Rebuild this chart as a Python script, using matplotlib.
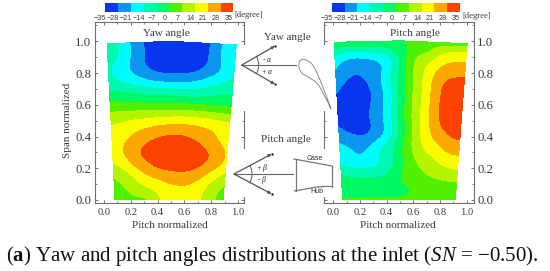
import numpy as np
import matplotlib
matplotlib.use("Agg")
import matplotlib.pyplot as plt
import matplotlib.tri as mtri
from matplotlib.colors import ListedColormap, BoundaryNorm
from matplotlib.ticker import MultipleLocator
from matplotlib.path import Path
from matplotlib.patches import PathPatch, Rectangle, Arc

plt.rcParams['font.family'] = ['Liberation Serif', 'DejaVu Serif']
plt.rcParams['mathtext.fontset'] = 'custom'
plt.rcParams['mathtext.rm'] = 'Liberation Serif'
plt.rcParams['mathtext.it'] = 'Liberation Serif:italic'
plt.rcParams['mathtext.bf'] = 'Liberation Serif:bold'

levels = [-35, -28, -21, -14, -7, 0, 7, 14, 21, 28, 35]
band_colors = ['#0a35ee', '#0a96ee', '#00fbfb', '#00f8b0', '#00f864',
               '#50f000', '#b4f400', '#fbfb00', '#fba800', '#fb4200']
level_labels = ['\u221235', '\u221228', '\u221221', '\u221214', '\u22127', '0', '7', '14', '21', '28', '35']

pitch_pos = [0, .1, .2, .3, .4, .5, .6, .7, .8, .9, 1]

yaw_span = [0, .1, .2, .3, .4, .5, .6, .7, .8, .9, 1]
yaw_values = [
    [3.5, 4.5, 5.5, 7, 13, 14.5, 15.5, 15, 13.5, 8, 5],
    [5.5, 8, 12, 15.5, 18, 20.5, 21.5, 20.5, 17, 11.5, 7.5],
    [11, 14.5, 20, 24.5, 27.5, 29, 29.5, 28.5, 25.5, 21, 16],
    [17, 21, 26, 29.5, 31.5, 32.5, 33, 31.5, 29, 25, 20],
    [17, 19, 22.5, 25.5, 27.5, 28.5, 28.5, 27, 24.5, 21, 18],
    [12.5, 13.5, 15, 16, 17, 17.5, 18, 17.5, 16.5, 15, 13.5],
    [3, 2.8, 2.5, 2, 1.8, 1.5, 1.5, 1.2, 1, .5, 0],
    [-7, -8.5, -10, -12, -13.5, -14, -14, -13.5, -11.5, -9.5, -8],
    [-13, -17, -21, -25, -27.5, -28.5, -28, -26.5, -23, -19, -15],
    [-12, -16, -23, -28.5, -31, -32, -32, -31, -27.5, -20.5, -16],
    [-10, -15, -23, -29, -32, -33, -33, -31, -28, -21, -16],
]

pitch_span = [0, .025, .1, .2, .3, .4, .5, .6, .7, .8, .9, .97, 1]
pitch_values = [
    [4, 4, 4, 4, 4, 4, 4, 4, 4, 4, 4],
    [-3, -3, -3, -3, -2.5, -1, 1, 2, 3, 3.5, 3.5],
    [-4.5, -5.5, -5.5, -5.5, -4, -1.5, 1.5, 3, 4.5, 5.5, 5.5],
    [-12, -13.5, -14, -13, -9.5, -2.5, 3.5, 7.5, 10.5, 13, 14.5],
    [-18, -20.5, -21, -16, -10.5, -2.5, 6, 12.5, 16.5, 20.5, 22],
    [-24, -26.5, -27.5, -24, -17, -5.5, 6.5, 16, 22.5, 27, 29],
    [-29, -32, -30.5, -26, -18, -5.5, 7, 17, 26, 31, 32],
    [-29, -32.5, -31, -26, -18, -5.5, 7, 17, 26.5, 32, 33],
    [-27, -31, -30.5, -26, -17.5, -5.5, 6.8, 16.5, 26, 30.5, 31.5],
    [-22, -27, -27.5, -24.5, -17, -5.5, 6.5, 15.5, 23, 26.5, 27],
    [-16, -20, -20.5, -19, -15, -5.5, 5, 10, 15.5, 18.5, 19],
    [-5, -7.5, -7.5, -7, -5, -1.5, 1.5, 4, 7.5, 9, 9],
    [-1, -1.5, -2, -2, -2, -1, 1, 2.5, 3, 3, 2],
]

W, H = 550, 271
GREY = '#707070'
TXT = '#3a3a3a'
fig = plt.figure(figsize=(W / 100, H / 100), dpi=100)
cmap = ListedColormap(band_colors)
norm = BoundaryNorm(levels, cmap.N)


def px_axes(x0, y0, x1, y1, **kw):
    return fig.add_axes([x0 / W, 1 - y1 / H, (x1 - x0) / W, (y1 - y0) / H], **kw)


def panel(px, field, spans, left, right, top, ticks_px):
    # px: left, right, top, bottom of the frame; left/right = edges (top, bottom) in data units
    ax = px_axes(px[0], px[2], px[1], px[3])
    tick0, tick1 = ticks_px
    scale = tick1 - tick0
    ax.set_xlim((px[0] - tick0) / scale, (px[1] - tick0) / scale)
    ax.set_ylim((200 - px[3]) / 158.7, (200 - px[2]) / 158.7)
    xi = np.array(pitch_pos)
    eta = np.array(spans)
    top_curve = np.interp(xi, [0, .5, 1], top)
    Y = np.outer(eta, top_curve)
    e = Y / top_curve.max()
    XL = left[1] + (left[0] - left[1]) * e
    XR = right[1] + (right[0] - right[1]) * e
    X = XL + (XR - XL) * xi
    nr, nc = X.shape
    idx = np.arange(nr * nc).reshape(nr, nc)
    a, b, c, d = idx[:-1, :-1].ravel(), idx[:-1, 1:].ravel(), idx[1:, 1:].ravel(), idx[1:, :-1].ravel()
    triangles = np.vstack([np.column_stack([a, b, c]), np.column_stack([a, c, d])])
    tri = mtri.Triangulation(X.ravel(), Y.ravel(), triangles)
    z = np.array(field, dtype=float).ravel()
    refiner = mtri.UniformTriRefiner(tri)
    tri_f, z_f = refiner.refine_field(z, triinterpolator=mtri.CubicTriInterpolator(tri, z, kind='min_E'), subdiv=3)
    ax.tricontourf(tri_f, z_f, levels=levels, cmap=cmap, norm=norm, extend='both')
    ax.set_xticks([0, .2, .4, .6, .8, 1])
    ax.set_yticks([0, .2, .4, .6, .8, 1])
    ax.xaxis.set_minor_locator(MultipleLocator(.1))
    ax.yaxis.set_minor_locator(MultipleLocator(.1))
    ax.tick_params(which='major', direction='in', length=2.4, width=.7, color=GREY,
                   top=True, right=True, labelcolor=TXT, pad=2.5)
    ax.tick_params(axis='x', which='major', labelsize=7.6, pad=3.5)
    ax.tick_params(axis='y', which='major', labelsize=9.2)
    ax.tick_params(which='minor', direction='in', length=1.2, width=.6, color=GREY,
                   top=True, right=True)
    ax.set_xticklabels(['0.0', '0.2', '0.4', '0.6', '0.8', '1.0'])
    for s in ax.spines.values():
        s.set_color(GREY)
        s.set_linewidth(.8)
    return ax


ax1 = panel((94.7, 244.3, 22.3, 202.7), yaw_values, yaw_span, (.022, .082), (.99, .888),
            (.985, 1.0, .977), (104, 238))
ax1.set_yticklabels(['0.0', '0.2', '0.4', '0.6', '0.8', '1.0'])
ax2 = panel((324, 473.7, 22.3, 202.7), pitch_values, pitch_span, (.005, .07), (1.005, .914),
            (.994, 1.003, .985), (333.3, 466.7))
ax2.yaxis.tick_right()
ax2.tick_params(which='both', left=True)
ax2.set_yticklabels(['0.0', '0.2', '0.4', '0.6', '0.8', '1.0'])


def colorbar(x0, x1, lab0, lab1):
    cb = px_axes(x0, 3, x1, 12)
    cb.pcolormesh(levels, [0, 1], [[(a + b) / 2 for a, b in zip(levels[:-1], levels[1:])]],
                  cmap=cmap, norm=norm)
    cb.axis('off')
    lb = px_axes(lab0, 12, lab1, 13)
    lb.set_xlim(-35, 35)
    lb.set_yticks([])
    lb.set_xticks(levels)
    lb.set_xticklabels(level_labels, family=['Liberation Sans', 'DejaVu Sans'])
    lb.tick_params(length=0, labelsize=5.2, labelcolor=TXT, pad=1.2)
    lb.patch.set_alpha(0)
    for s in lb.spines.values():
        s.set_visible(False)


colorbar(105.3, 233.3, 99.7, 229)
colorbar(331.7, 460, 326.7, 456)

ov = fig.add_axes([0, 0, 1, 1], zorder=10)
ov.set_xlim(0, W)
ov.set_ylim(H, 0)
ov.axis('off')
ov.patch.set_alpha(0)

for rect in [(240, 45, 10, 66), (240, 149, 10, 48), (318, 45, 10, 66), (318, 149, 10, 48)]:
    ov.add_patch(Rectangle(rect[:2], rect[2], rect[3], fc='white', ec='none'))

ov.text(68, 120, 'Span normalized', rotation=90, ha='center', va='center', fontsize=8, color=TXT)
ov.text(169.7, 225.7, 'Pitch normalized', ha='center', va='center', fontsize=8, color=TXT)
ov.text(398.3, 225.7, 'Pitch normalized', ha='center', va='center', fontsize=8, color=TXT)
ov.text(166.7, 33.3, 'Yaw angle', ha='center', va='center', fontsize=8, color=TXT)
ov.text(415, 33.3, 'Pitch angle', ha='center', va='center', fontsize=8, color=TXT)
ov.text(287, 37.7, 'Yaw angle', ha='center', va='center', fontsize=8, color=TXT)
ov.text(285.7, 139, 'Pitch angle', ha='center', va='center', fontsize=8, color=TXT)
ov.text(234.7, 15, '[degree]', ha='left', va='center', fontsize=6.2, color=TXT)
ov.text(462.7, 16, '[degree]', ha='left', va='center', fontsize=6.2, color=TXT)


def arrow(p, q):
    ov.annotate('', xy=q, xytext=p,
                arrowprops=dict(arrowstyle='-|>,head_length=0.22,head_width=0.1', color='#555555',
                                lw=.9, shrinkA=0, shrinkB=0, mutation_scale=8))
    ov.plot([q[0]], [q[1]], 's', ms=1.4, color='black', mew=0)


# yaw diagram
v = (241.7, 65)
arrow(v, (275, 46))
arrow(v, (275, 84.3))
ov.plot([v[0], 296], [65, 65], color='#666666', lw=.8)
ov.add_patch(Arc(v, 34, 34, theta1=-30, theta2=30, color='#555555', lw=.7))
ov.text(267, 60, '- $\\alpha$', ha='center', va='center', fontsize=5.5, color='#222222')
ov.text(267, 71, '+ $\\alpha$', ha='center', va='center', fontsize=5.5, color='#222222')

# blade outline
blade = Path([(331, 109), (325, 92), (319, 76), (314, 67),
              (310, 60), (304, 58.5), (301, 60),
              (297.5, 62), (298, 70), (303, 74),
              (309, 78), (317, 80), (322, 91),
              (327, 101), (330, 106), (331, 109)],
             [Path.MOVETO] + [Path.CURVE4] * 15)
ov.add_patch(PathPatch(blade, fc='none', ec='#8a8a8a', lw=.7))

# pitch diagram
v = (234, 174)
arrow(v, (271.7, 154))
arrow(v, (271.7, 194))
ov.plot([v[0], 293], [174, 174], color='#666666', lw=.8)
ov.add_patch(Arc(v, 36, 36, theta1=-30, theta2=30, color='#555555', lw=.7))
ov.text(262, 168.5, '+ $\\beta$', ha='center', va='center', fontsize=5.5, color='#222222')
ov.text(262, 180, '- $\\beta$', ha='center', va='center', fontsize=5.5, color='#222222')

# duct
ov.plot([294, 331.7], [159, 166], color='#777777', lw=.9)
ov.plot([295.7, 295.7], [159, 190.5], color='#777777', lw=.9)
ov.plot([331.7, 331.7], [166, 187], color='#777777', lw=.9)
ov.add_patch(PathPatch(Path([(294, 191), (308, 189), (314, 186), (331.7, 186.5)],
                            [Path.MOVETO, Path.CURVE4, Path.CURVE4, Path.CURVE4]),
                       fc='none', ec='#777777', lw=.9))
for label, x, y in [('Case', 315, 158), ('Hub', 316.7, 191.7)]:
    ov.text(x, y, label, ha='center', va='center', fontsize=5, color='#333333',
            family=['Liberation Sans', 'DejaVu Sans'])

ov.text(6, 261, '($\\mathbf{a}$) Yaw and pitch angles distributions at the inlet ($\\mathit{SN}$ = \u22120.50).',
        ha='left', va='baseline', fontsize=15, color='#111111')

fig.savefig('out.png', dpi=100)
